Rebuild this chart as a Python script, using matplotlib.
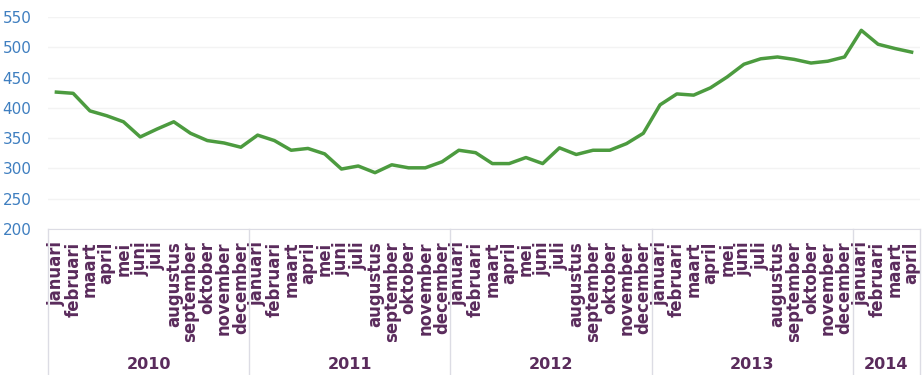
import numpy as np
import matplotlib
matplotlib.use('Agg')
import matplotlib.pyplot as plt
import matplotlib.transforms as mtransforms

# monthly values, januari 2010 .. april 2014
months = ['januari', 'februari', 'maart', 'april', 'mei', 'juni', 'juli', 'augustus',
          'september', 'oktober', 'november', 'december']
years = ['2010', '2011', '2012', '2013', '2014']
values = [426, 424, 395, 387, 377, 352, 365, 377, 358, 346, 342, 335,
          355, 346, 330, 333, 324, 299, 304, 293, 306, 301, 301, 311,
          330, 326, 308, 308, 318, 308, 334, 323, 330, 330, 341, 358,
          405, 423, 421, 433, 451, 472, 481, 484, 480, 474, 477, 484,
          528, 505, 498, 492]
yticks = [200, 250, 300, 350, 400, 450, 500, 550]

labels = [months[i % 12] for i in range(len(values))]
x = np.arange(len(values))

purple = '#5a2b5c'
blue = '#3f7fc0'
green = '#4c9b3f'
boxcol = '#dcdce4'

fig = plt.figure(figsize=(9.23, 3.75), dpi=100)
ax = fig.add_axes([48/923, (375-229)/375, 872/923, 212/375])

ax.plot(x, values, color=green, lw=2.5, solid_joinstyle='round')
ax.set_xlim(-0.5, len(values) - 0.5)
ax.set_ylim(200, 550)
ax.set_yticks(yticks)
ax.yaxis.grid(True, color='#f3f3f3', lw=1)
ax.set_axisbelow(True)

ax.set_xticks(x)
ax.set_xticklabels(labels, rotation=90, color=purple, fontweight='bold', fontsize=11.9)
ax.tick_params(axis='x', length=0, pad=9)
ax.tick_params(axis='y', length=0, pad=12, labelcolor=blue, labelsize=11)

for s in ['top', 'right', 'left']:
    ax.spines[s].set_visible(False)
ax.spines['bottom'].set_color(boxcol)

# year groups below the month labels
trans = mtransforms.blended_transform_factory(ax.transData, ax.transAxes)
bounds = [-0.5, 11.5, 23.5, 35.5, 47.5, len(values) - 0.5]
for b in bounds:
    ax.plot([b, b], [0, -0.7], color=boxcol, lw=1, transform=trans, clip_on=False)
for i, yr in enumerate(years):
    mid = (bounds[i] + bounds[i + 1]) / 2
    ax.text(mid, -0.637, yr, transform=trans, ha='center', va='center',
            color=purple, fontweight='bold', fontsize=11.5)

fig.savefig('out.png', dpi=100)
